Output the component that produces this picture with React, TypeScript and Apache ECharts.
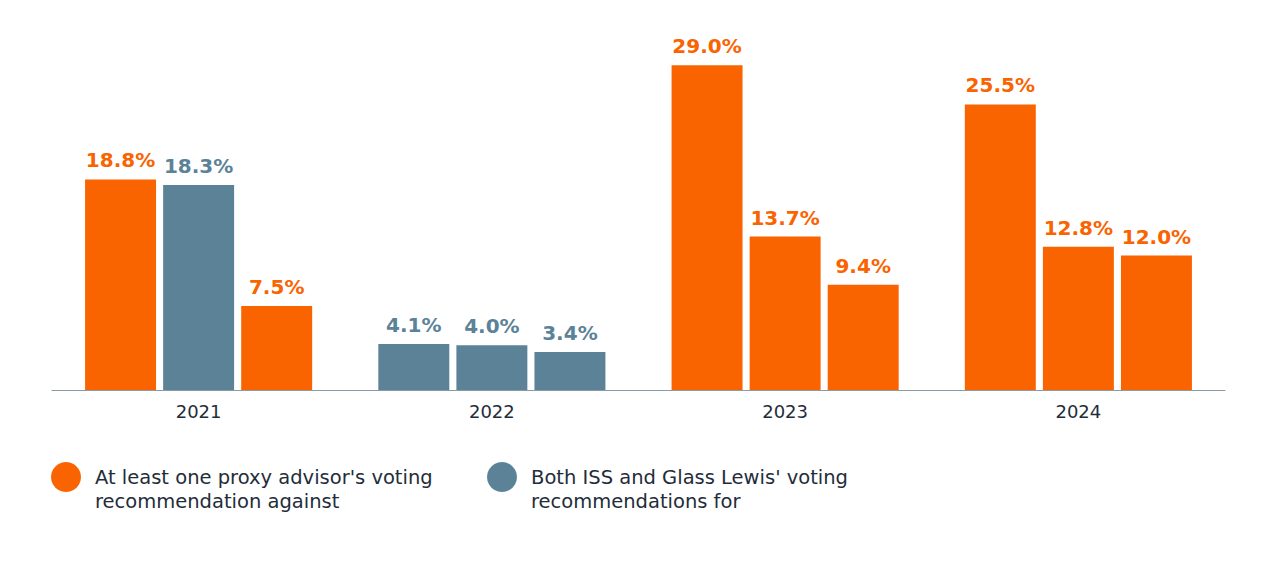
import React, { useEffect, useRef } from "react";
import * as echarts from "echarts";

const years = ["2021", "2022", "2023", "2024"];
const bar1Values = [18.8, 4.1, 29.0, 25.5];
const bar2Values = [18.3, 4.0, 13.7, 12.8];
const bar3Values = [7.5, 3.4, 9.4, 12.0];
// which category each bar belongs to: "against" (orange) or "for" (slate)
const bar1Groups = ["against", "for", "against", "against"];
const bar2Groups = ["for", "for", "against", "against"];
const bar3Groups = ["against", "for", "against", "against"];

const legendAgainst = "At least one proxy advisor's voting\nrecommendation against";
const legendFor = "Both ISS and Glass Lewis' voting\nrecommendations for";

const ORANGE = "#F96300";
const SLATE = "#5B8297";
const FONT = "DejaVu Sans";

function buildData(values: number[], groups: string[]) {
  return values.map((v, i) => {
    const c = groups[i] === "for" ? SLATE : ORANGE;
    return {
      value: v,
      itemStyle: { color: c },
      label: { color: c },
    };
  });
}

export default function App() {
  const ref = useRef<HTMLDivElement>(null);
  useEffect(() => {
    document.body.style.margin = "0";
    const chart = echarts.init(ref.current!, null, { renderer: "svg" });
    const barCommon = {
      type: "bar" as const,
      barWidth: "24.2%",
      barGap: "10%",
      label: {
        show: true,
        position: "top" as const,
        distance: 9,
        fontFamily: FONT,
        fontSize: 20,
        fontWeight: "bold" as const,
        formatter: (p: any) => p.value.toFixed(1) + "%",
      },
    };
    chart.setOption({
      animation: false,
      textStyle: { fontFamily: FONT },
      grid: { left: 52, right: 55, top: 54, bottom: 180 },
      xAxis: {
        type: "category",
        data: years,
        axisTick: { show: false },
        axisLine: { lineStyle: { color: "#8C9BA3", width: 1 } },
        axisLabel: { color: "#1F2D3A", fontSize: 18, margin: 12, fontFamily: FONT },
      },
      yAxis: { type: "value", min: 0, max: 30, show: false, splitLine: { show: false } },
      legend: {
        left: 46,
        top: 436,
        orient: "horizontal",
        icon: "circle",
        itemWidth: 30,
        itemHeight: 30,
        itemGap: 30,
        data: [legendAgainst, legendFor],
        formatter: (name: string) => "\n" + name,
        textStyle: {
          fontFamily: FONT,
          fontSize: 19.5,
          color: "#1F2D3A",
          lineHeight: 24,
          width: 362,
          padding: [0, 0, 0, 9],
        },
      },
      series: [
        { ...barCommon, name: "bar1", data: buildData(bar1Values, bar1Groups) },
        { ...barCommon, name: "bar2", data: buildData(bar2Values, bar2Groups) },
        { ...barCommon, name: "bar3", data: buildData(bar3Values, bar3Groups) },
        { type: "line", name: legendAgainst, data: [], itemStyle: { color: ORANGE } },
        { type: "line", name: legendFor, data: [], itemStyle: { color: SLATE } },
      ],
    });
    return () => chart.dispose();
  }, []);
  return <div ref={ref} style={{ width: 1280, height: 570 }} />;
}
